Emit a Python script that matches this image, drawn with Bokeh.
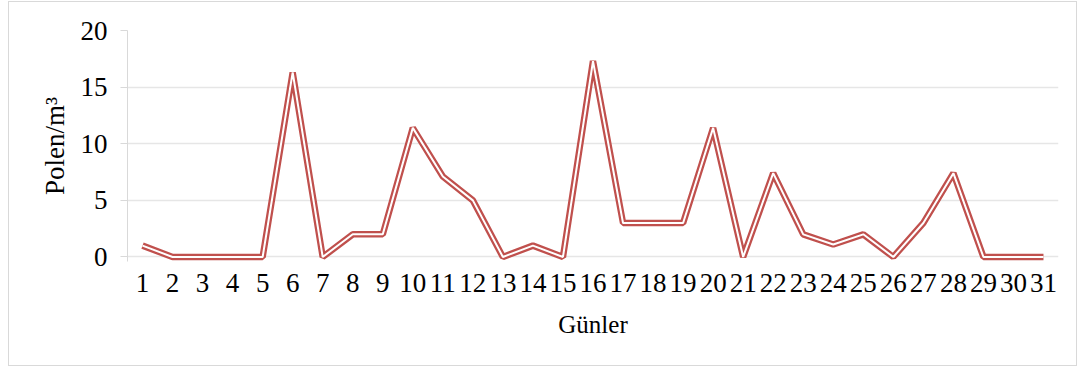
from bokeh.plotting import figure
from bokeh.models import Range1d, FixedTicker
from bokeh.embed import file_html
from bokeh.resources import INLINE

days = list(range(1, 32))
pollen = [1, 0, 0, 0, 0, 16.3, 0, 2, 2, 11.4, 7.1, 5, 0, 1, 0, 17.3, 3, 3, 3, 11.4,
          0, 7.4, 2, 1.1, 2, 0, 3, 7.4, 0, 0, 0]
y_ticks = [0, 5, 10, 15, 20]
x_title = "Günler"
y_title = "Polen/m³"

FONT = "Liberation Serif"

p = figure(width=1069, height=365, output_backend="svg", toolbar_location=None,
           x_range=Range1d(0.5, 31.5), y_range=Range1d(-0.4, 20),
           min_border_left=118, min_border_right=20, min_border_top=28, min_border_bottom=106,
           styles={"border": "1px solid #d9d9d9", "margin-left": "8px", "margin-top": "1px"})
p.outline_line_color = None
p.background_fill_color = "white"
p.border_fill_color = "white"

p.line(days, pollen, line_color="#c0504d", line_width=6.5, line_join="bevel")
p.line(days, pollen, line_color="white", line_width=2, line_join="bevel")

p.xgrid.visible = False
p.ygrid.ticker = FixedTicker(ticks=y_ticks)
p.ygrid.grid_line_color = "#e6e6e6"
p.ygrid.grid_line_width = 1.5

p.yaxis.ticker = FixedTicker(ticks=y_ticks)
p.yaxis.axis_line_color = "#d9d9d9"
p.yaxis.major_tick_line_color = "#d9d9d9"
p.yaxis.major_tick_in = 0
p.yaxis.major_tick_out = 7
p.yaxis.minor_tick_line_color = None
p.yaxis.major_label_standoff = 13
p.yaxis.major_label_text_font = FONT
p.yaxis.major_label_text_font_size = "27px"
p.yaxis.major_label_text_color = "black"
p.yaxis.axis_label = y_title
p.yaxis.axis_label_text_font = FONT
p.yaxis.axis_label_text_font_size = "27px"
p.yaxis.axis_label_text_font_style = "normal"
p.yaxis.axis_label_text_color = "black"
p.yaxis.axis_label_standoff = 8

p.xaxis.ticker = FixedTicker(ticks=days)
p.xaxis.axis_line_color = None
p.xaxis.major_tick_line_color = None
p.xaxis.minor_tick_line_color = None
p.xaxis.major_tick_in = 0
p.xaxis.major_tick_out = 0
p.xaxis.major_label_standoff = 12
p.xaxis.major_label_text_font = FONT
p.xaxis.major_label_text_font_size = "27px"
p.xaxis.major_label_text_color = "black"
p.xaxis.axis_label = x_title
p.xaxis.axis_label_text_font = FONT
p.xaxis.axis_label_text_font_size = "25px"
p.xaxis.axis_label_text_font_style = "normal"
p.xaxis.axis_label_text_color = "black"
p.xaxis.axis_label_standoff = 16

open("out.html", "w").write(file_html(p, INLINE))
